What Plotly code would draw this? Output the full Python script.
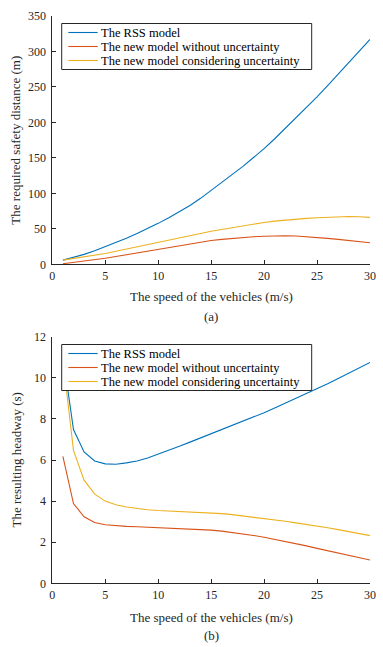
import plotly.graph_objects as go

speed = list(range(1, 31))

# (a) required safety distance (m)
dist_rss = [5.9, 9.7, 14.0, 19.1, 24.7, 30.5, 36.7, 43.3, 50.3, 57.7,
            65.5, 74.0, 83.0, 93.0, 104.0, 115.0, 126.5, 138.0, 150.5, 163.0,
            177.0, 191.5, 206.0, 221.0, 236.0, 252.0, 268.0, 284.0, 300.5, 317.0]
dist_new = [0.8, 2.6, 4.5, 6.4, 8.5, 11.0, 13.6, 16.2, 18.8, 21.5,
            24.0, 26.4, 28.8, 31.2, 33.5, 35.2, 36.6, 37.8, 38.8, 39.5,
            40.0, 40.2, 39.8, 39.0, 37.9, 36.6, 35.1, 33.5, 31.9, 30.3]
dist_unc = [5.9, 8.1, 10.4, 12.8, 15.3, 18.3, 21.3, 24.3, 27.4, 30.4,
            33.6, 36.9, 40.1, 43.3, 46.5, 49.2, 51.8, 54.3, 56.7, 59.0,
            60.8, 62.4, 63.8, 64.8, 65.6, 66.4, 67.0, 67.3, 67.0, 66.1]

# (b) resulting headway (s)
hw_rss = [11.1, 7.48, 6.39, 5.95, 5.81, 5.79, 5.86, 5.95, 6.10, 6.28,
          6.47, 6.67, 6.87, 7.07, 7.27, 7.48, 7.69, 7.90, 8.10, 8.30,
          8.53, 8.76, 8.99, 9.22, 9.45, 9.71, 9.97, 10.23, 10.49, 10.75]
hw_new = [6.18, 3.88, 3.24, 2.96, 2.85, 2.80, 2.77, 2.75, 2.73, 2.71,
          2.69, 2.67, 2.64, 2.62, 2.59, 2.54, 2.48, 2.41, 2.33, 2.24,
          2.14, 2.04, 1.93, 1.82, 1.70, 1.58, 1.46, 1.35, 1.24, 1.13]
hw_unc = [10.9, 6.47, 5.02, 4.34, 4.00, 3.82, 3.71, 3.64, 3.58, 3.54,
          3.52, 3.50, 3.48, 3.46, 3.43, 3.39, 3.34, 3.28, 3.22, 3.16,
          3.09, 3.02, 2.94, 2.87, 2.79, 2.70, 2.61, 2.51, 2.42, 2.32]

names = ["The RSS model", "The new model without uncertainty",
         "The new model considering uncertainty"]
colors = ["#0072BD", "#D95319", "#EDB120"]

x_ticks = [0, 5, 10, 15, 20, 25, 30]
y_ticks_a = [0, 50, 100, 150, 200, 250, 300, 350]
y_ticks_b = [0, 2, 4, 6, 8, 10, 12]

x_title = "The speed of the vehicles (m/s)"
y_title_a = "The required safety distance (m)"
y_title_b = "The resulting headway (s)"

FONT = "Liberation Serif"
W, H = 383, 647
TXT = "#262626"

fig = go.Figure()
for ys, nm, c in zip([dist_rss, dist_new, dist_unc], names, colors):
    fig.add_trace(go.Scatter(x=speed, y=ys, name=nm, mode="lines",
                             line=dict(color=c, width=1.1), showlegend=False,
                             xaxis="x", yaxis="y"))
for ys, nm, c in zip([hw_rss, hw_new, hw_unc], names, colors):
    fig.add_trace(go.Scatter(x=speed, y=ys, name=nm, mode="lines",
                             line=dict(color=c, width=1.1), showlegend=False,
                             xaxis="x2", yaxis="y2"))

def px_x(p):
    return p / W

def px_y(p):
    return 1 - p / H

xl, xr = px_x(52.3), px_x(370)
ya = (px_y(264.3), px_y(16))
yb = (px_y(583.3), px_y(336.7))

axis_common = dict(showline=True, linecolor=TXT, linewidth=1,
                   ticks="inside", ticklen=4, tickcolor=TXT,
                   showgrid=False, zeroline=False, automargin=False,
                   tickfont=dict(family=FONT, size=12, color=TXT))
title_font = dict(family=FONT, size=13, color=TXT)

shapes = []
annotations = []
ROW = 14.0

def add_legend(left, top):
    shapes.append(dict(type="rect", xref="paper", yref="paper",
                       x0=px_x(left), x1=px_x(left + 250),
                       y0=px_y(top + 2 * ROW + 18), y1=px_y(top),
                       line=dict(color=TXT, width=1), fillcolor="white",
                       layer="above"))
    for i, (nm, c) in enumerate(zip(names, colors)):
        yy = top + 9.0 + ROW * i
        shapes.append(dict(type="line", xref="paper", yref="paper",
                           x0=px_x(left + 6.6), x1=px_x(left + 36),
                           y0=px_y(yy), y1=px_y(yy),
                           line=dict(color=c, width=1.1), layer="above"))
        annotations.append(dict(text=nm, xref="paper", yref="paper",
                                x=px_x(left + 38.5), y=px_y(yy + 0.5),
                                xanchor="left", yanchor="middle",
                                showarrow=False, borderpad=0,
                                font=dict(family=FONT, size=12.5, color="#000000")))

def add_text(text, xp, yp, angle=0):
    annotations.append(dict(text=text, xref="paper", yref="paper",
                            x=px_x(xp), y=px_y(yp), xanchor="center",
                            yanchor="middle", textangle=angle,
                            showarrow=False, borderpad=0, font=title_font))

add_legend(61.7, 23.5)
add_legend(61.7, 344.5)

xc = (52.3 + 370) / 2
add_text(x_title, xc, 296.5)
add_text("(a)", xc, 316)
add_text(x_title, xc, 617.5)
add_text("(b)", xc, 635.5)
add_text(y_title_a, 15.5, (16 + 264.3) / 2, -90)
add_text(y_title_b, 15.5, (336.7 + 583.3) / 2, -90)

fig.update_layout(
    width=W, height=H, autosize=False,
    margin=dict(l=0, r=0, t=0, b=0, pad=0),
    paper_bgcolor="white", plot_bgcolor="white",
    font=dict(family=FONT, size=13, color="#000000"),
    showlegend=False,
    xaxis=dict(domain=[xl, xr], range=[0, 30], tickvals=x_ticks, anchor="y",
               **axis_common),
    yaxis=dict(domain=list(ya), range=[0, 350], tickvals=y_ticks_a, anchor="x",
               ticklabelstandoff=3, **axis_common),
    xaxis2=dict(domain=[xl, xr], range=[0, 30], tickvals=x_ticks, anchor="y2",
                **axis_common),
    yaxis2=dict(domain=list(yb), range=[0, 12], tickvals=y_ticks_b, anchor="x2",
                ticklabelstandoff=3, **axis_common),
    shapes=shapes,
    annotations=annotations,
)

fig.write_html("out.html", config={"displayModeBar": False})

# remove the default page margin so the figure sits at the window's corner
with open("out.html", encoding="utf-8") as f:
    html = f.read()
html = html.replace("<head>", "<head><style>html,body{margin:0;padding:0;overflow:hidden;}</style>", 1)
with open("out.html", "w", encoding="utf-8") as f:
    f.write(html)
